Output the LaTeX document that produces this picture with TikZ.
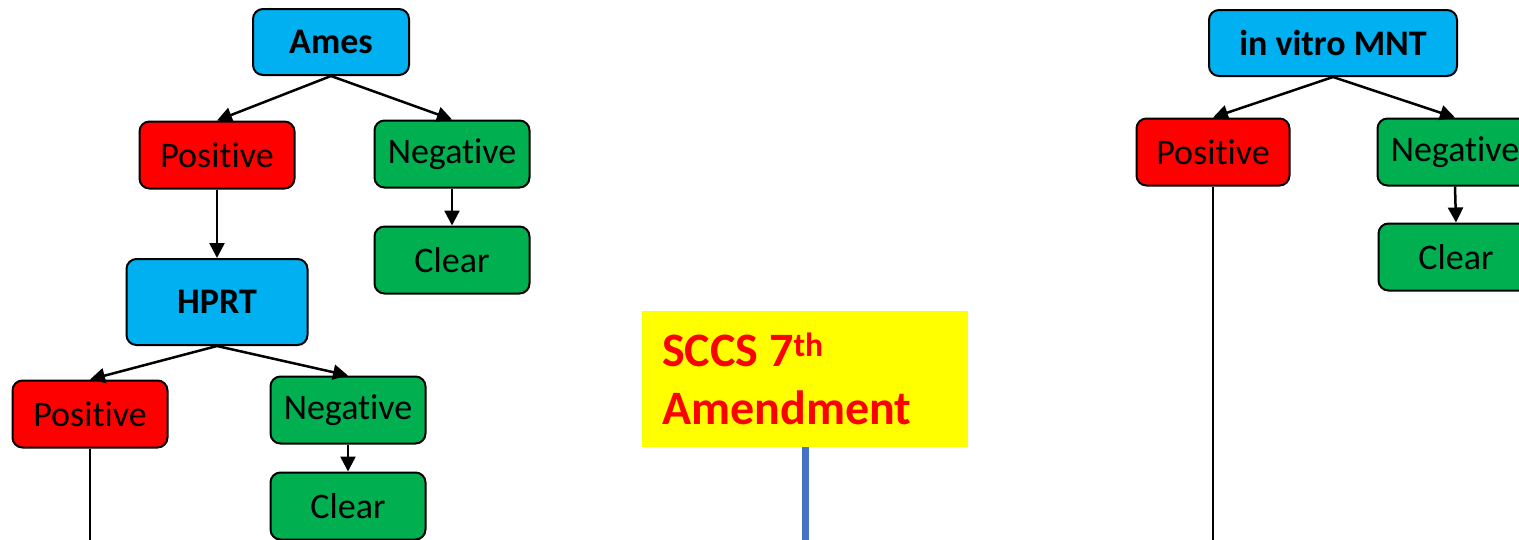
\documentclass[tikz,border=0pt]{standalone}
\usepackage{fontspec}
\setmainfont[RawFeature={-liga;-clig;-calt;-dlig}]{Carlito}
\usetikzlibrary{arrows.meta}
\definecolor{cblue}{HTML}{00B0F0}
\definecolor{cred}{HTML}{FF0000}
\definecolor{cgreen}{HTML}{00B050}
\definecolor{cyellow}{HTML}{FFFF00}
\definecolor{lblue}{HTML}{4472C4}
\newcommand{\Pos}{Posit\kern0pt ive}
\newcommand{\Neg}{Negat\kern0pt ive}
\begin{document}
\begin{tikzpicture}[x=1pt,y=-1pt,
  tbox/.style={draw=black, line width=2pt, rounded corners=10pt, inner sep=0pt,
    minimum width=155pt, minimum height=67pt, text=black},
  regfont/.style={font=\fontsize{36}{42}\selectfont},
  bldfont/.style={font=\fontsize{36}{42}\selectfont\bfseries},
  posbox/.style={tbox, regfont, fill=cred},
  negbox/.style={tbox, regfont, fill=cgreen},
  tstbox/.style={tbox, bldfont, fill=cblue},
  arr/.style={line width=2.5pt, -{Triangle[length=15pt,width=15pt]}},
  plainln/.style={line width=2.5pt}]
\useasboundingbox (0,0) rectangle (1519,539);

% Left tree
\node[tstbox, minimum width=156pt, minimum height=66pt] (ames) at (331,42) {Ames};
\node[posbox] (pos1) at (217,155) {\Pos};
\node[negbox] (neg1) at (452,154) {\Neg};
\node[negbox] (clr1) at (452,260) {Clear};
\node[tstbox, minimum width=181pt, minimum height=86pt] (hprt) at (217,302) {HPRT};
\node[posbox] (pos2) at (90,414) {\Pos};
\node[negbox] (neg2) at (348,410) {\Neg};
\node[negbox] (clr2) at (348,506) {Clear};
\coordinate (end1) at (90,545);

\draw[arr] (ames.south) -- (pos1.north);
\draw[arr] (ames.south) -- (neg1.north);
\draw[arr] (pos1.south) -- (hprt.north);
\draw[arr] (neg1.south) -- (clr1.north);
\draw[arr] (hprt.south) -- (pos2.north);
\draw[arr] (hprt.south) -- (neg2.north);
\draw[arr] (neg2.south) -- (clr2.north);
\draw[plainln] (pos2.south) -- (end1);

% Middle
\node[fill=cyellow, minimum width=326pt, minimum height=136pt, inner sep=0pt] (sccs) at (805,379) {};
\node[anchor=base west, inner sep=0pt, text=cred, font=\fontsize{48}{58}\selectfont\bfseries] (sccst) at (662,366) {SCCS 7\textsuperscript{th}};
\node[anchor=base west, inner sep=0pt, text=cred, font=\fontsize{48}{58}\selectfont\bfseries] (amend) at (662,424) {Amendment};
\coordinate (end2) at (805,545);
\draw[lblue, line width=7pt] (sccs.south) -- (end2);

% Right tree
\node[tstbox, minimum width=248pt, minimum height=66pt] (mnt) at (1333,43) {in vitro MNT};
\node[posbox, minimum width=153pt] (pos3) at (1213,152) {\Pos};
\node[negbox] (neg3) at (1455,152) {\Neg};
\node[negbox] (clr3) at (1456,257) {Clear};
\coordinate (end3) at (1213,545);
\draw[arr] (mnt.south) -- (pos3.north);
\draw[arr] (mnt.south) -- (neg3.north);
\draw[arr] (neg3.south) -- (clr3.north);
\draw[plainln] (pos3.south) -- (end3);
\end{tikzpicture}
\end{document}
